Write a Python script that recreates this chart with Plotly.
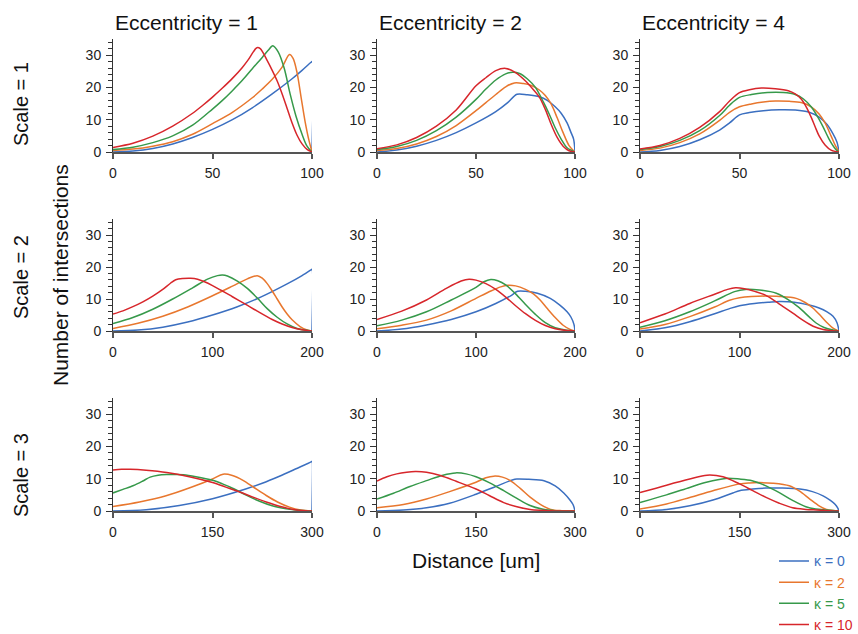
import plotly.graph_objects as go

# ---------------- data ----------------
ECCENTRICITIES = [1, 2, 4]
SCALES = [1, 2, 3]
KAPPAS = [0, 2, 5, 10]
X_MAX = [100, 200, 300]
X_TICKS = [[0, 50, 100], [0, 100, 200], [0, 150, 300]]

# Scale = 1, Eccentricity = 1
E1_S1_K0_X = [0, 10, 20, 30, 40, 50, 60, 70, 80, 90, 95, 99.5, 100, 100]
E1_S1_K0_Y = [0, 0.3, 1.1, 2.5, 4.5, 7, 10, 13.7, 18, 22.7, 25.3, 27.8, 28, 0]
E1_S1_K2_X = [0, 10, 20, 30, 40, 50, 60, 70, 75, 80, 85, 88.7, 90.5, 92.5, 94.5, 96.5, 98.5, 100]
E1_S1_K2_Y = [0.5, 0.9, 1.8, 3.2, 5.5, 8.8, 12.3, 16.8, 19.5, 22.5, 26.3, 30.2, 29, 24.5, 17, 9.5, 3.5, 0]
E1_S1_K5_X = [0, 10, 20, 30, 40, 50, 55, 60, 65, 70, 75, 78, 80.3, 83, 86, 89, 92, 95, 97.5, 100]
E1_S1_K5_Y = [0.8, 1.5, 2.9, 5, 8.3, 13.3, 16, 19, 22.2, 25.8, 29.3, 31.5, 32.9, 31, 26, 18, 11, 5.5, 1.8, 0]
E1_S1_K10_X = [0, 10, 20, 30, 40, 45, 50, 55, 60, 65, 68, 70.5, 72.3, 74, 77.5, 80, 82.5, 85, 87.5, 90, 92.5, 95, 97.5, 100]
E1_S1_K10_Y = [1.4, 2.7, 4.9, 8, 12, 14.4, 17, 19.8, 22.8, 26.2, 28.6, 31, 32.3, 32, 28.3, 25.3, 22, 18, 13.5, 9, 5.2, 2.5, 0.8, 0]

# Scale = 1, Eccentricity = 2
E2_S1_K0_X = [0, 10, 20, 30, 40, 50, 60, 66, 70.7, 76, 82, 86, 90, 93, 96, 98, 99.3, 100]
E2_S1_K0_Y = [0, 0.6, 1.8, 3.6, 6, 9, 12.5, 15.3, 17.9, 17.7, 17.1, 16, 14, 12, 9, 6, 4, 0]
E2_S1_K2_X = [0, 10, 20, 30, 40, 50, 55, 60, 65, 69.4, 74, 78, 82, 85, 88, 91, 94, 97, 100]
E2_S1_K2_Y = [0.5, 1.1, 2.5, 4.8, 8.2, 12.8, 15.3, 17.8, 20.2, 21.4, 21.2, 20.6, 19.2, 17.5, 14.8, 10.6, 6, 2, 0]
E2_S1_K5_X = [0, 10, 20, 30, 40, 50, 55, 60, 65, 68.6, 72, 76, 80, 84, 87, 90, 93, 96, 100]
E2_S1_K5_Y = [0.8, 1.7, 3.6, 6.6, 10.8, 16.3, 19.5, 22.3, 24.2, 24.7, 24.3, 22.6, 20, 15.5, 11.7, 7.5, 4, 1.3, 0]
E2_S1_K10_X = [0, 10, 20, 30, 40, 50, 55, 60, 65, 70, 75, 79, 82, 85, 88, 91, 94, 97, 100]
E2_S1_K10_Y = [1, 2.2, 4.5, 8, 13, 20.5, 23, 25.2, 25.9, 24.6, 22, 19.3, 17, 13.2, 8.5, 4.5, 1.8, 0.4, 0]

# Scale = 1, Eccentricity = 4
E4_S1_K0_X = [0, 10, 20, 30, 40, 45, 50, 55, 62, 70, 78, 85, 90, 94, 97, 99, 100]
E4_S1_K0_Y = [0, 0.5, 1.7, 3.8, 6.8, 9, 11.5, 12.2, 12.8, 13.1, 13, 12.3, 10.8, 8.5, 5.6, 3, 0]
E4_S1_K2_X = [0, 10, 20, 30, 40, 45, 50, 56, 62, 68, 75, 81, 86, 90, 93, 96, 98, 100]
E4_S1_K2_Y = [0.5, 1.2, 2.9, 5.6, 9.8, 12.3, 14, 14.9, 15.5, 15.8, 15.7, 15.3, 14, 11.8, 9, 5, 2.2, 0]
E4_S1_K5_X = [0, 10, 20, 30, 40, 45, 50, 56, 64, 72, 78, 82, 86, 89, 92, 95, 98, 100]
E4_S1_K5_Y = [0.8, 1.7, 3.6, 6.6, 11.3, 14.5, 16.9, 17.8, 18.4, 18.4, 17.8, 16.5, 14, 11.2, 7.8, 4, 1.1, 0]
E4_S1_K10_X = [0, 10, 20, 30, 40, 45, 50, 55, 61, 68, 74.5, 78, 81, 83.5, 86, 88, 90, 93, 96, 100]
E4_S1_K10_Y = [0.9, 2, 4.2, 7.6, 12.5, 15.8, 18.4, 19.3, 19.8, 19.6, 19, 18, 16.4, 14, 10.8, 7.8, 5, 2.2, 0.6, 0]

# Scale = 2, Eccentricity = 1
E1_S2_K0_X = [0, 25, 50, 75, 100, 125, 150, 175, 190, 199.5, 200, 200]
E1_S2_K0_Y = [0, 0.3, 1.2, 2.8, 5, 7.6, 10.8, 14.7, 17.3, 19.2, 19.3, 0]
E1_S2_K2_X = [0, 25, 50, 75, 100, 120, 135, 145, 150, 155, 160, 165, 170, 175, 180, 188, 195, 200]
E1_S2_K2_Y = [0.8, 2.4, 4.6, 7.5, 11, 14, 16.3, 17.3, 16.5, 14.8, 12.5, 10, 7.5, 5.3, 3.5, 1.4, 0.3, 0]
E1_S2_K5_X = [0, 20, 40, 60, 80, 95, 105, 110, 115, 125, 135, 145, 155, 165, 175, 185, 200]
E1_S2_K5_Y = [2.3, 4.2, 6.8, 10, 13.5, 16.2, 17.3, 17.5, 17.2, 15.6, 13.3, 10.3, 7, 4.3, 2.2, 0.8, 0]
E1_S2_K10_X = [0, 10, 20, 30, 40, 50, 58, 63, 70, 78, 85, 92, 100, 110, 120, 133, 145, 160, 170, 180, 190, 200]
E1_S2_K10_Y = [5.3, 6.3, 7.6, 9.1, 10.9, 13, 15, 16, 16.4, 16.5, 16.2, 15.4, 14.2, 12.5, 10.7, 8.4, 6.2, 3.6, 2.2, 1.1, 0.4, 0]

# Scale = 2, Eccentricity = 2
E2_S2_K0_X = [0, 25, 50, 75, 100, 120, 135, 142, 150, 162, 175, 185, 192, 196, 199, 200]
E2_S2_K0_Y = [0, 0.6, 1.9, 3.6, 6, 8.6, 11, 12.4, 12.4, 11.8, 10.2, 8, 6, 4.3, 2, 0]
E2_S2_K2_X = [0, 25, 50, 75, 100, 115, 125, 132, 140, 150, 158, 165, 172, 180, 188, 195, 200]
E2_S2_K2_Y = [0.7, 1.8, 3.4, 6.3, 10.2, 12.5, 13.8, 14.3, 14.1, 13, 11.6, 9.6, 7, 4.2, 1.8, 0.5, 0]
E2_S2_K5_X = [0, 25, 50, 75, 100, 108, 115, 122, 130, 140, 150, 160, 170, 180, 190, 200]
E2_S2_K5_Y = [1.6, 3.4, 6, 9.7, 13.6, 15.4, 16.1, 15.7, 14.4, 11.6, 8.3, 5.2, 2.6, 1, 0.3, 0]
E2_S2_K10_X = [0, 25, 50, 70, 85, 93, 100, 110, 120, 130, 140, 150, 160, 170, 180, 190, 200]
E2_S2_K10_Y = [3.6, 6.2, 9.7, 13.3, 15.6, 16.2, 15.9, 14.8, 13, 10.6, 7.9, 5.4, 3.3, 1.7, 0.7, 0.2, 0]

# Scale = 2, Eccentricity = 4
E4_S2_K0_X = [0, 25, 50, 75, 90, 100, 115, 130, 140, 155, 170, 180, 188, 194, 198, 200]
E4_S2_K0_Y = [0, 1, 2.9, 5.4, 7, 7.9, 8.6, 9, 9.2, 9, 8.1, 7.2, 6, 4.6, 2.6, 0]
E4_S2_K2_X = [0, 25, 50, 75, 90, 100, 112, 126, 140, 157, 166, 174, 182, 188, 194, 200]
E4_S2_K2_Y = [0.6, 2, 4.5, 7.5, 9.6, 10.4, 10.8, 10.9, 10.8, 10.2, 8.9, 7.1, 4.6, 2.6, 0.9, 0]
E4_S2_K5_X = [0, 25, 50, 75, 95, 106, 120, 137, 150, 160, 170, 177, 185, 194, 200]
E4_S2_K5_Y = [1.2, 3.2, 6, 9.4, 12.3, 13, 12.8, 11.8, 9.6, 7.3, 4.4, 2.5, 1.1, 0.3, 0]
E4_S2_K10_X = [0, 25, 50, 75, 88, 96, 105, 116, 126, 135, 145, 154, 164, 174, 184, 194, 200]
E4_S2_K10_Y = [2.6, 5.3, 8.6, 11.5, 13, 13.5, 13.2, 12.3, 11.2, 9.5, 7.4, 5.5, 3.3, 1.5, 0.5, 0.1, 0]

# Scale = 3, Eccentricity = 1
E1_S3_K0_X = [0, 50, 100, 150, 200, 225, 250, 275, 299.5, 300, 300]
E1_S3_K0_Y = [0, 0.4, 1.7, 3.8, 6.8, 8.6, 10.7, 13, 15.3, 15.4, 0]
E1_S3_K2_X = [0, 40, 80, 120, 150, 166, 180, 196, 213, 231, 248, 266, 283, 300]
E1_S3_K2_Y = [1.4, 2.8, 4.7, 7.5, 9.9, 11.4, 11, 9.5, 7.2, 4.8, 2.8, 1.2, 0.3, 0]
E1_S3_K5_X = [0, 15, 31, 45, 56, 68, 81, 95, 106, 125, 150, 165, 182, 200, 221, 240, 261, 280, 300]
E1_S3_K5_Y = [5.6, 6.7, 7.9, 9.3, 10.5, 11.1, 11.3, 11.3, 11.2, 10.6, 9.5, 8.4, 6.9, 5, 3, 1.6, 0.7, 0.2, 0]
E1_S3_K10_X = [0, 13, 26, 50, 81, 115, 150, 170, 191, 211, 231, 251, 272, 290, 300]
E1_S3_K10_Y = [12.7, 12.9, 12.9, 12.6, 11.9, 10.6, 8.8, 7.4, 5.9, 4.3, 2.8, 1.5, 0.5, 0.1, 0]

# Scale = 3, Eccentricity = 2
E2_S3_K0_X = [0, 40, 75, 110, 150, 180, 205, 212, 230, 253, 270, 283, 292, 297, 300]
E2_S3_K0_Y = [0, 0.3, 1, 2.4, 5.2, 7.6, 9.6, 9.9, 9.8, 9.4, 7.8, 5.6, 3.5, 2, 0]
E2_S3_K2_X = [0, 40, 75, 110, 150, 165, 177, 190, 202, 217, 232, 248, 263, 280, 300]
E2_S3_K2_Y = [1, 2, 3.7, 6, 8.9, 10.3, 10.8, 10.5, 9.4, 7, 4.3, 2, 0.5, 0.1, 0]
E2_S3_K5_X = [0, 25, 50, 75, 100, 119, 135, 150, 170, 192, 212, 232, 250, 263, 280, 300]
E2_S3_K5_Y = [3.7, 5.5, 7.6, 9.4, 11.1, 11.8, 11.5, 10.6, 8.8, 6.3, 3.9, 1.7, 0.6, 0.2, 0, 0]
E2_S3_K10_X = [0, 15, 30, 45, 58, 75, 96, 120, 150, 170, 192, 212, 232, 250, 270, 300]
E2_S3_K10_Y = [9.3, 10.6, 11.5, 12, 12.2, 12, 11, 9.2, 6.8, 4.8, 2.6, 1.3, 0.5, 0.2, 0, 0]

# Scale = 3, Eccentricity = 4
E4_S3_K0_X = [0, 40, 75, 110, 140, 150, 170, 190, 215, 241, 260, 276, 287, 294, 298, 300]
E4_S3_K0_Y = [0, 0.5, 1.6, 3.4, 5.6, 6.3, 6.8, 7.1, 7.1, 6.8, 6, 4.7, 3.3, 2.1, 1, 0]
E4_S3_K2_X = [0, 40, 75, 110, 150, 165, 180, 200, 225, 240, 256, 270, 281, 300]
E4_S3_K2_Y = [0.6, 2.2, 4.2, 6.3, 8.4, 8.7, 8.8, 8.6, 7.8, 6.2, 3.7, 1.6, 0.5, 0]
E4_S3_K5_X = [0, 40, 75, 100, 129, 150, 169, 190, 210, 230, 250, 265, 281, 300]
E4_S3_K5_Y = [2.6, 5, 7.3, 8.9, 10.1, 9.9, 9.4, 7.8, 5.7, 3.3, 1.3, 0.6, 0.3, 0]
E4_S3_K10_X = [0, 40, 75, 101, 125, 150, 170, 190, 210, 230, 250, 266, 285, 300]
E4_S3_K10_Y = [5.7, 8, 9.9, 11.1, 10.6, 8.4, 6.3, 4.2, 2.4, 1, 0.5, 0.3, 0.1, 0]

COLORS = ["#3b6fc0", "#e8772e", "#36994a", "#d7262b"]

# table built from the named lists above
G = globals()
SERIES = {}
for e in ECCENTRICITIES:
    for s in SCALES:
        for k in KAPPAS:
            SERIES[(e, s, k)] = (G[f"E{e}_S{s}_K{k}_X"], G[f"E{e}_S{s}_K{k}_Y"])

# ---------------- layout geometry (pixels) ----------------
W, H = 858, 634
COL_LEFT = [113, 377, 640]
COL_RIGHT = [312, 575, 839]
ROW_TOP = [39, 219, 398]
ROW_BOTTOM = [152, 331, 511]

FONT = "Liberation Sans, Arial, sans-serif"

fig = go.Figure()
layout = dict(
    width=W, height=H,
    margin=dict(l=0, r=0, t=0, b=0, autoexpand=False),
    paper_bgcolor="white", plot_bgcolor="white",
    font=dict(family=FONT, size=14, color="#222"),
    showlegend=True,
    legend=dict(
        x=1, xanchor="right", y=-0.01, yanchor="bottom",
        font=dict(size=14), tracegroupgap=0, bgcolor="rgba(0,0,0,0)",
        itemwidth=30,
    ),
)

for ri, s in enumerate(SCALES):
    for ci, e in enumerate(ECCENTRICITIES):
        n = ri * 3 + ci + 1
        sfx = "" if n == 1 else str(n)
        for ki, k in enumerate(KAPPAS):
            xs, ys = SERIES[(e, s, k)]
            fig.add_trace(go.Scatter(
                x=xs, y=ys, mode="lines",
                line=dict(color=COLORS[ki], width=1.5, shape="spline", smoothing=0.9),
                name=f"<span style='color:{COLORS[ki]}'>κ = {k}</span>",
                legendgroup=f"k{k}", showlegend=(n == 1),
                xaxis=f"x{sfx}", yaxis=f"y{sfx}", hoverinfo="skip",
            ))
        layout[f"xaxis{sfx}"] = dict(
            domain=[COL_LEFT[ci] / W, COL_RIGHT[ci] / W],
            anchor=f"y{sfx}", range=[0, X_MAX[ri]],
            tickmode="array", tickvals=X_TICKS[ri],
            showline=True, linecolor="#555", linewidth=2,
            ticks="outside", ticklen=5, tickwidth=1.5, tickcolor="#555",
            showgrid=False, zeroline=False, layer="below traces",
            tickfont=dict(size=14, color="#222"), ticklabelstandoff=2,
        )
        layout[f"yaxis{sfx}"] = dict(
            domain=[1 - ROW_BOTTOM[ri] / H, 1 - ROW_TOP[ri] / H],
            anchor=f"x{sfx}", range=[0, 35],
            tickmode="linear", tick0=0, dtick=10,
            showline=True, linecolor="#333", linewidth=1,
            ticks="outside", ticklen=6, tickwidth=1.2, tickcolor="#333",
            minor=dict(dtick=2, ticks="outside", ticklen=4, tickcolor="#333", tickwidth=1),
            showgrid=False, zeroline=False, layer="below traces",
            tickfont=dict(size=14, color="#222"), ticklabelstandoff=2,
        )

annotations = []
for ci, e in enumerate(ECCENTRICITIES):
    annotations.append(dict(
        text=f"Eccentricity = {e}", x=COL_LEFT[ci] / W, y=1 - 22 / H,
        xref="paper", yref="paper", xanchor="left", yanchor="middle",
        showarrow=False, font=dict(size=21, color="#111", family=FONT),
    ))
ROW_LABEL_Y = [104, 277, 475]
for ri, s in enumerate(SCALES):
    annotations.append(dict(
        text=f"Scale = {s}", x=21 / W, y=1 - ROW_LABEL_Y[ri] / H,
        xref="paper", yref="paper", xanchor="center", yanchor="middle",
        textangle=-90, showarrow=False, font=dict(size=20, color="#111", family=FONT),
    ))
annotations.append(dict(
    text="Number of intersections", x=60 / W, y=1 - 275 / H,
    xref="paper", yref="paper", xanchor="center", yanchor="middle",
    textangle=-90, showarrow=False, font=dict(size=21, color="#111", family=FONT),
))
annotations.append(dict(
    text="Distance [um]", x=476 / W, y=1 - 560 / H,
    xref="paper", yref="paper", xanchor="center", yanchor="middle",
    showarrow=False, font=dict(size=21, color="#111", family=FONT),
))
layout["annotations"] = annotations

fig.update_layout(**layout)
fig.write_html(
    "out.html",
    config={"displayModeBar": False},
    post_script="document.body.style.margin='0px';document.body.style.overflow='hidden';",
)
